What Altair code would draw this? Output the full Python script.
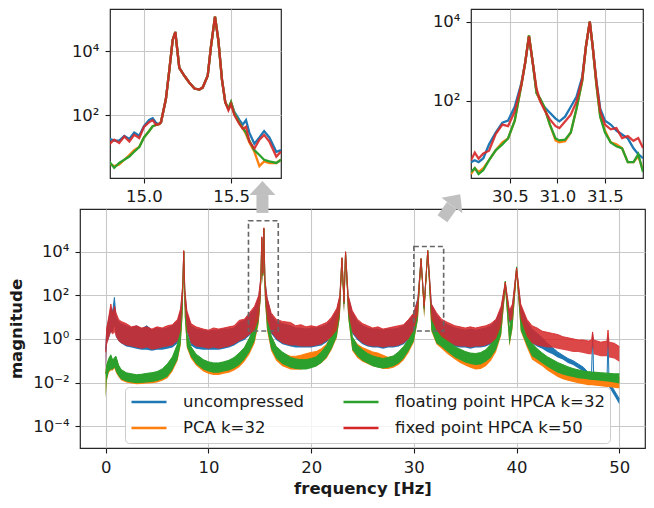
import altair as alt
import pandas as pd

# ---------------- series names / colours ----------------
SERIES = ["uncompressed", "PCA k=32", "floating point HPCA k=32", "fixed point HPCA k=50"]
COLORS = ["#1f77b4", "#ff7f0e", "#2ca02c", "#d62728"]

# ---------------- main spectrum (log10 of magnitude, lower / upper edge of noise band) ----------------
F = [0, 0.1, 0.3, 0.5, 0.7, 0.85, 1.0, 1.25, 1.5,
     2.0, 2.5, 3.0, 3.5, 4.0, 4.5, 5.0, 5.5, 6.0, 6.5, 7.0,
     7.3, 7.5, 7.6, 7.7, 7.9, 8.3, 8.8,
     9.5, 10, 10.5, 11, 11.5, 12, 12.5, 13, 13.5, 14, 14.5,
     14.9, 15.1, 15.2, 15.3, 15.4, 15.5, 15.7, 16.1, 16.6,
     17.2, 18, 18.5, 19, 19.5, 20, 20.5, 21, 21.5, 22, 22.5,
     22.8, 23.0, 23.2, 23.35, 23.6, 24.0,
     24.5, 25, 25.5, 26, 26.5, 27, 27.5, 28, 28.5, 29, 29.5, 30.0,
     30.4, 30.7, 31.0, 31.35, 31.7, 32.2, 32.7,
     33.3, 34, 34.5, 35, 35.5, 36, 36.5, 37, 37.5, 38, 38.5,
     38.9, 39.3, 39.6, 40.0, 40.4, 41,
     41.5, 42, 42.5, 43, 43.5, 44, 44.5, 45, 45.5, 46, 46.5, 47,
     47.3, 47.4, 47.5, 48.2, 48.8, 48.9, 49.0, 49.5, 50]

RED_LO = [-1.6, -0.3, 0.0, 0.3, 0.2, 0.3, 0.1, -0.1, -0.2,
          -0.3, -0.35, -0.4, -0.45, -0.4, -0.5, -0.45, -0.4, -0.35, -0.3, -0.1,
          0.4, 1.8, 3.7, 1.6, 0.4, -0.2, -0.35,
          -0.4, -0.45, -0.4, -0.45, -0.4, -0.35, -0.25, -0.1, 0.0, 0.2, 0.4,
          0.9, 2.0, 4.3, 2.6, 4.8, 2.0, 0.9, 0.3, 0.0,
          -0.2, -0.3, -0.3, -0.35, -0.35, -0.35, -0.3, -0.25, -0.1, 0.1, 0.4,
          1.2, 3.5, 1.3, 3.8, 1.2, 0.3,
          0.0, -0.2, -0.3, -0.35, -0.35, -0.4, -0.35, -0.35, -0.3, -0.2, 0.0, 0.4,
          1.1, 3.4, 1.2, 3.8, 0.9, 0.4, 0.1,
          -0.1, -0.3, -0.35, -0.35, -0.4, -0.35, -0.35, -0.3, -0.2, 0.0, 0.6,
          2.3, 0.8, 0.9, 2.9, 0.9, 0.1,
          -0.2, -0.3, -0.35, -0.4, -0.4, -0.45, -0.5, -0.55, -0.6, -0.6, -0.65, -0.7,
          -0.7, -0.3, -0.7, -0.8, -0.8, -0.3, -0.85, -0.9, -1.05]
RED_HI = [-0.6, 0.5, 1.0, 1.6, 1.1, 1.5, 1.2, 0.9, 0.8,
          0.7, 0.55, 0.6, 0.5, 0.55, 0.45, 0.55, 0.5, 0.6, 0.65, 0.9,
          1.4, 2.5, 4.05, 2.3, 1.3, 0.7, 0.55,
          0.45, 0.4, 0.5, 0.45, 0.5, 0.55, 0.6, 0.85, 0.9, 1.2, 1.5,
          2.0, 2.8, 4.68, 3.0, 5.09, 2.7, 1.9, 1.2, 0.9,
          0.8, 0.75, 0.6, 0.65, 0.55, 0.6, 0.55, 0.65, 0.75, 1.0, 1.4,
          2.0, 3.73, 1.7, 4.0, 2.0, 1.3,
          0.9, 0.7, 0.6, 0.5, 0.55, 0.45, 0.5, 0.55, 0.6, 0.65, 0.9, 1.2,
          1.8, 3.68, 1.5, 4.05, 1.6, 1.2, 0.9,
          0.75, 0.6, 0.55, 0.5, 0.55, 0.5, 0.55, 0.6, 0.7, 0.9, 1.5,
          2.6, 1.3, 1.6, 3.25, 1.6, 0.9,
          0.6, 0.5, 0.35, 0.3, 0.25, 0.2, 0.1, 0.05, 0.0, -0.05, -0.05, -0.1,
          -0.05, 0.32, -0.05, -0.15, -0.1, 0.4, -0.15, -0.2, -0.35]

BLUE_LO = [-1.5, -0.2, 0.0, 0.3, 0.3, 0.6, 0.1, -0.1, -0.2,
           -0.35, -0.4, -0.45, -0.5, -0.5, -0.55, -0.5, -0.5, -0.45, -0.4, -0.2,
           0.3, 1.7, 3.7, 1.5, 0.3, -0.3, -0.45,
           -0.5, -0.5, -0.5, -0.5, -0.45, -0.4, -0.3, -0.15, -0.05, 0.15, 0.35,
           0.9, 2.0, 4.3, 2.6, 4.8, 2.0, 0.9, 0.25, -0.05,
           -0.25, -0.35, -0.4, -0.4, -0.4, -0.4, -0.35, -0.3, -0.15, 0.05, 0.35,
           1.2, 3.5, 1.3, 3.8, 1.2, 0.25,
           -0.05, -0.25, -0.35, -0.4, -0.4, -0.45, -0.4, -0.4, -0.35, -0.25, -0.05, 0.35,
           1.2, 3.4, 1.3, 3.8, 1.0, 0.35, 0.05,
           -0.15, -0.35, -0.4, -0.4, -0.45, -0.4, -0.4, -0.35, -0.25, -0.05, 0.55,
           2.2, 0.7, 0.8, 2.9, 0.8, 0.0,
           -0.2, -0.35, -0.45, -0.6, -0.7, -0.85, -0.95, -1.1, -1.2, -1.35, -1.5, -1.75,
           -1.78, 0.0, -1.8, -1.95, -2.1, -0.1, -2.2, -2.6, -3.0]
BLUE_HI = [-0.5, 0.4, 0.9, 1.4, 1.3, 1.9, 1.0, 0.8, 0.7,
           0.6, 0.5, 0.6, 0.45, 0.6, 0.4, 0.5, 0.45, 0.5, 0.6, 0.8,
           1.3, 2.4, 4.0, 2.2, 1.2, 0.6, 0.45,
           0.4, 0.35, 0.4, 0.4, 0.45, 0.45, 0.5, 0.75, 0.85, 1.1, 1.4,
           1.9, 2.75, 4.65, 3.0, 5.05, 2.7, 1.9, 1.1, 0.8,
           0.7, 0.6, 0.5, 0.5, 0.45, 0.5, 0.5, 0.55, 0.65, 0.9, 1.3,
           1.95, 3.7, 1.65, 3.98, 1.95, 1.2,
           0.8, 0.6, 0.5, 0.45, 0.45, 0.4, 0.45, 0.45, 0.5, 0.6, 0.85, 1.15,
           1.9, 3.65, 1.6, 4.0, 1.6, 1.1, 0.8,
           0.65, 0.5, 0.45, 0.4, 0.45, 0.4, 0.45, 0.5, 0.6, 0.85, 1.4,
           2.55, 1.2, 1.5, 3.2, 1.5, 0.8,
           0.45, 0.25, 0.05, -0.2, -0.4, -0.6, -0.75, -0.9, -1.0, -1.15, -1.3, -1.55,
           -1.58, 0.23, -1.6, -1.78, -1.9, 0.09, -1.95, -2.35, -2.75]

GREEN_LO = [-2.7, -1.9, -1.5, -1.4, -1.4, -1.3, -1.5, -1.7, -1.85,
            -1.95, -2.0, -2.03, -2.02, -2.0, -1.98, -1.93, -1.85, -1.73, -1.41, -0.95,
            -0.23, 1.2, 3.6, 1.0, -0.36, -0.82, -1.15,
            -1.4, -1.5, -1.55, -1.55, -1.5, -1.45, -1.35, -1.2, -0.95, -0.6, -0.1,
            0.8, 1.9, 4.2, 2.5, 4.7, 1.8, 0.5, -0.45, -0.9,
            -1.15, -1.32, -1.38, -1.4, -1.4, -1.35, -1.27, -1.1, -0.85, -0.45, 0.1,
            1.0, 3.4, 1.2, 3.7, 1.0, -0.5,
            -0.8, -1.0, -1.13, -1.25, -1.32, -1.36, -1.32, -1.25, -1.13, -0.9, -0.55, -0.1,
            0.9, 3.4, 1.0, 3.8, 0.4, -0.2, -0.36,
            -0.6, -0.85, -0.97, -1.08, -1.15, -1.2, -1.18, -1.05, -0.85, -0.5, 0.2,
            2.2, -0.3, 0.5, 2.9, 0.4, -0.3,
            -0.8, -0.95, -1.12, -1.28, -1.42, -1.55, -1.63, -1.7, -1.75, -1.8, -1.83, -1.86,
            -1.88, -1.88, -1.89, -1.92, -1.95, -1.95, -1.96, -2.0, -2.05]
GREEN_HI = [-1.6, -1.2, -0.9, -0.73, -1.0, -0.85, -0.8, -1.2, -1.4,
            -1.55, -1.6, -1.64, -1.62, -1.58, -1.55, -1.5, -1.38, -1.15, -0.82, -0.23,
            0.41, 2.2, 4.0, 2.0, 0.23, -0.36, -0.7,
            -0.95, -1.05, -1.1, -1.1, -1.05, -0.98, -0.85, -0.65, -0.4, 0.05, 0.6,
            1.5, 2.6, 4.6, 2.9, 5.05, 2.5, 1.3, 0.15, -0.35,
            -0.6, -0.85, -0.92, -0.95, -0.95, -0.9, -0.82, -0.6, -0.3, 0.2, 0.9,
            1.8, 3.7, 1.6, 3.95, 1.8, 0.1,
            -0.3, -0.5, -0.67, -0.78, -0.85, -0.9, -0.85, -0.78, -0.6, -0.35, 0.0, 0.5,
            1.7, 3.68, 1.4, 4.05, 1.2, 0.45, 0.23,
            -0.05, -0.35, -0.47, -0.58, -0.65, -0.67, -0.63, -0.5, -0.25, 0.1, 0.9,
            2.65, 0.4, 1.2, 3.3, 1.1, 0.35,
            -0.2, -0.45, -0.65, -0.82, -0.95, -1.08, -1.18, -1.28, -1.36, -1.42, -1.47, -1.5,
            -1.52, -1.52, -1.52, -1.55, -1.57, -1.57, -1.58, -1.6, -1.6]

ORANGE_LO = [-2.7, -1.95, -1.55, -1.45, -1.45, -1.35, -1.55, -1.75, -1.9,
             -2.0, -2.05, -2.08, -2.07, -2.05, -2.03, -2.0, -1.92, -1.8, -1.5, -1.0,
             -0.3, 1.2, 3.6, 1.0, -0.42, -0.9, -1.22,
             -1.5, -1.6, -1.65, -1.65, -1.6, -1.55, -1.45, -1.3, -1.05, -0.7, -0.2,
             0.7, 1.9, 4.2, 2.5, 4.7, 1.8, 0.4, -0.55, -1.0,
             -1.25, -1.4, -1.42, -1.4, -1.35, -1.3, -1.25, -1.1, -0.9, -0.5, 0.05,
             1.0, 3.4, 1.2, 3.7, 1.0, -0.55,
             -0.88, -1.05, -1.15, -1.25, -1.3, -1.38, -1.38, -1.32, -1.2, -0.98, -0.62, -0.15,
             0.9, 3.4, 0.95, 3.8, 0.35, -0.25, -0.45,
             -0.7, -0.95, -1.1, -1.22, -1.32, -1.4, -1.38, -1.25, -1.0, -0.6, 0.15,
             2.2, -0.35, 0.45, 2.9, 0.35, -0.4,
             -0.95, -1.1, -1.25, -1.45, -1.6, -1.75, -1.85, -1.92, -1.98, -2.03, -2.08, -2.12,
             -2.13, -2.13, -2.14, -2.17, -2.2, -2.2, -2.21, -2.24, -2.27]
ORANGE_HI = [-1.6, -1.25, -0.95, -0.8, -1.05, -0.9, -0.85, -1.25, -1.45,
             -1.6, -1.65, -1.68, -1.66, -1.62, -1.6, -1.55, -1.42, -1.2, -0.88, -0.3,
             0.35, 2.2, 4.0, 2.0, 0.2, -0.4, -0.75,
             -1.0, -1.1, -1.15, -1.15, -1.1, -1.02, -0.9, -0.7, -0.45, 0.0, 0.55,
             1.45, 2.6, 4.6, 2.9, 5.05, 2.5, 1.25, 0.1, -0.4,
             -0.65, -0.8, -0.8, -0.75, -0.68, -0.62, -0.58, -0.45, -0.25, 0.2, 0.85,
             1.8, 3.7, 1.6, 3.95, 1.8, 0.05,
             -0.25, -0.4, -0.5, -0.6, -0.65, -0.75, -0.85, -0.8, -0.65, -0.4, -0.05, 0.45,
             1.7, 3.68, 1.4, 4.05, 1.15, 0.4, 0.2,
             -0.1, -0.4, -0.5, -0.6, -0.68, -0.7, -0.66, -0.55, -0.3, 0.05, 0.85,
             2.6, 0.35, 1.15, 3.25, 1.05, 0.3,
             -0.25, -0.5, -0.7, -0.9, -1.05, -1.15, -1.25, -1.35, -1.45, -1.52, -1.57, -1.62,
             -1.63, -1.63, -1.64, -1.67, -1.7, -1.7, -1.7, -1.72, -1.75]

# ---------------- inset 1 (around 15 Hz), log10 magnitude ----------------
IF1 = [14.800, 14.829, 14.858, 14.887, 14.916, 14.944, 14.973, 15.000, 15.030, 15.050,
       15.070, 15.088, 15.098, 15.126, 15.146, 15.165, 15.180, 15.203, 15.232, 15.260,
       15.290, 15.318, 15.337, 15.366, 15.385, 15.408, 15.427, 15.448, 15.467, 15.485,
       15.500, 15.519, 15.548, 15.567, 15.586, 15.605, 15.634, 15.663, 15.690, 15.720,
       15.760, 15.787]
R1 = [1.08, 1.23, 1.13, 1.33, 1.17, 1.38, 1.28, 1.63, 1.78, 1.84,
      1.69, 1.72, 1.78, 2.5, 3.42, 4.35, 4.6, 3.48, 3.23, 3.02,
      2.83, 2.8, 2.86, 3.23, 4.15, 5.08, 4.35, 3.11, 2.4, 2.15,
      2.34, 2.0, 1.72, 1.57, 1.63, 1.17, 0.95, 1.23, 1.38, 1.17,
      0.7, 0.86]
B1 = [1.26, 1.2, 1.2, 1.35, 1.25, 1.45, 1.35, 1.65, 1.85, 1.9,
      1.75, 1.72, 1.78, 2.5, 3.42, 4.35, 4.6, 3.48, 3.23, 3.02,
      2.83, 2.8, 2.86, 3.23, 4.15, 5.08, 4.35, 3.11, 2.4, 2.2,
      2.4, 2.1, 1.85, 1.7, 1.84, 1.45, 1.1, 1.3, 1.5, 1.3,
      0.85, 0.9]
G1 = [0.55, 0.35, 0.5, 0.6, 0.7, 0.85, 1.0, 1.3, 1.5, 1.65,
      1.69, 1.72, 1.78, 2.5, 3.42, 4.35, 4.6, 3.48, 3.23, 3.02,
      2.83, 2.8, 2.86, 3.23, 4.15, 5.08, 4.35, 3.11, 2.4, 2.2,
      2.4, 2.05, 1.75, 1.6, 1.45, 1.2, 0.9, 0.75, 0.6, 0.55,
      0.5, 0.6]
O1 = [0.5, 0.4, 0.45, 0.6, 0.75, 0.9, 1.0, 1.3, 1.5, 1.65,
      1.69, 1.72, 1.78, 2.5, 3.42, 4.35, 4.6, 3.48, 3.23, 3.02,
      2.83, 2.8, 2.86, 3.23, 4.15, 5.08, 4.35, 3.11, 2.4, 2.2,
      2.4, 2.05, 1.75, 1.6, 1.4, 1.15, 0.85, 0.4, 0.55, 0.5,
      0.5, 0.6]

# ---------------- inset 2 (around 31 Hz), log10 magnitude ----------------
IF2 = [30.09, 30.13, 30.17, 30.22, 30.28, 30.35, 30.42, 30.48, 30.55, 30.62,
       30.66, 30.70, 30.74, 30.78, 30.82, 30.86, 30.92, 30.98, 31.02, 31.08,
       31.14, 31.20, 31.26, 31.30, 31.34, 31.37, 31.41, 31.45, 31.50, 31.56,
       31.62, 31.68, 31.74, 31.80, 31.85, 31.90]
R2 = [0.5, 0.69, 0.54, 0.67, 0.74, 1.16, 1.4, 1.36, 1.73, 2.4,
      2.96, 3.63, 2.96, 2.3, 1.98, 1.78, 1.53, 1.36, 1.31, 1.48,
      1.65, 1.98, 2.54, 3.38, 4.0, 3.38, 2.47, 1.73, 1.4, 1.28,
      1.31, 1.06, 1.11, 0.99, 1.06, 0.81]
B2 = [0.45, 0.5, 0.45, 0.55, 0.9, 1.2, 1.45, 1.5, 1.85, 2.45,
      2.96, 3.63, 2.96, 2.2, 2.0, 1.85, 1.7, 1.55, 1.48, 1.6,
      1.85, 2.1, 2.6, 3.38, 4.0, 3.38, 2.5, 1.8, 1.5, 1.4,
      1.25, 1.15, 1.05, 0.8, 0.65, 0.55]
G2 = [0.2, 0.3, 0.15, 0.25, 0.5, 0.75, 0.9, 1.05, 1.5, 2.4,
      2.96, 3.65, 2.96, 2.2, 2.05, 1.85, 1.4, 1.05, 1.0, 1.02,
      1.2, 1.8, 2.5, 3.38, 4.0, 3.38, 2.4, 1.6, 1.2, 0.95,
      0.85, 0.8, 0.45, 0.45, 0.65, 0.2]
O2 = [0.15, 0.3, 0.2, 0.3, 0.5, 0.75, 0.95, 1.05, 1.5, 2.4,
      2.96, 3.65, 2.96, 2.2, 2.0, 1.85, 1.4, 1.0, 0.95, 0.98,
      1.2, 1.8, 2.5, 3.38, 4.0, 3.38, 2.4, 1.6, 1.25, 0.95,
      0.9, 0.8, 0.45, 0.45, 0.6, 0.25]

# ---------------- annotations (data coordinates of the main panel; y as log10) ----------------
BOX_F0 = [13.9, 30.0]
BOX_F1 = [16.8, 32.9]
BOX_Y0 = [0.36, 0.36]
BOX_Y1 = [5.41, 4.23]

ARROW_F0 = [15.26, 32.78]
ARROW_Y0 = [5.77, 5.50]
ARROW_F1 = [15.26, 33.70]
ARROW_Y1 = [6.59, 6.11]
HEAD_F = [15.26, 34.11]
HEAD_Y = [6.91, 6.37]
HEAD_ANGLE = [0, 36.5]

MAIN_XTICKS = [0, 10, 20, 30, 40, 50]
MAIN_YTICKS = [1e-4, 1e-2, 1, 1e2, 1e4]

# ---------------- styling ----------------
FS = 16.5
FONT = "DejaVu Sans"
GRID = "#c8c8c8"
INK = "#1a1a1a"
ARROW_COLOR = "#c0c0c0"

SUP_EXPR = ("datum.value < 0.001 ? '10\u207b\u2074' : datum.value < 0.1 ? '10\u207b\u00b2' : "
            "datum.value < 10 ? '10\u2070' : datum.value < 1000 ? '10\u00b2' : "
            "datum.value < 100000 ? '10\u2074' : '10\u2076'")


def axis(**kw):
    base = dict(labelFontSize=FS, labelColor=INK, tickColor=INK, tickSize=5, tickWidth=1.1,
                labelPadding=5, domain=False, grid=True, gridColor=GRID, gridWidth=1.1,
                labelFont=FONT, titleFont=FONT, titleFontSize=FS, titleColor=INK,
                titleFontWeight="bold", labelFlush=False)
    base.update(kw)
    return alt.Axis(**base)


def pw(vals):
    return [10 ** v for v in vals]


# ---------------- main panel ----------------
xs_main = alt.Scale(domain=[-2.5, 52.5], nice=False, zero=False)
ys_main = alt.Scale(type="log", domain=[1e-5, 10 ** 5.95], nice=False)
x_axis_main = axis(values=MAIN_XTICKS, title="frequency [Hz]", titlePadding=5, labelPadding=6)
y_axis_main = axis(values=MAIN_YTICKS, labelExpr=SUP_EXPR, title="magnitude", titlePadding=8,
                   labelPadding=6)

stroke_scale = alt.Scale(domain=SERIES, range=COLORS)
legend = alt.Legend(title=None, orient="none", legendX=45, legendY=178, columns=2,
                    symbolType="stroke", symbolSize=1225, symbolStrokeWidth=2.5, clipHeight=20,
                    labelFontSize=FS, labelFont=FONT, labelColor=INK, labelOffset=15, labelLimit=400,
                    columnPadding=37, rowPadding=6, padding=5,
                    fillColor="rgba(255,255,255,0.8)", strokeColor="#cccccc", cornerRadius=4)

bands = [
    (SERIES[0], COLORS[0], BLUE_LO, BLUE_HI, 1.0),
    (SERIES[1], COLORS[1], ORANGE_LO, ORANGE_HI, 1.0),
    (SERIES[2], COLORS[2], GREEN_LO, GREEN_HI, 1.0),
    (SERIES[3], COLORS[3], RED_LO, RED_HI, 0.85),
]

main_layers = []
for name, color, lo, hi, op in bands:
    n = min(len(F), len(lo), len(hi))
    df = pd.DataFrame({"f": F[:n], "lo": pw(lo[:n]), "hi": pw(hi[:n]), "series": name})
    base = alt.Chart(df)
    main_layers.append(
        base.mark_area(color=color, opacity=op, clip=True).encode(
            x=alt.X("f:Q", scale=xs_main, axis=x_axis_main),
            y=alt.Y("lo:Q", scale=ys_main, axis=y_axis_main),
            y2="hi:Q",
        )
    )
    main_layers.append(
        base.mark_line(strokeWidth=1, opacity=op, clip=True).encode(
            x=alt.X("f:Q", scale=xs_main, axis=x_axis_main),
            y=alt.Y("hi:Q", scale=ys_main, axis=y_axis_main),
            stroke=alt.Stroke("series:N", scale=stroke_scale, legend=legend),
        )
    )

box_df = pd.DataFrame({"x0": BOX_F0, "x1": BOX_F1, "y0": pw(BOX_Y0), "y1": pw(BOX_Y1)})
boxes = alt.Chart(box_df).mark_rect(fillOpacity=0, stroke="#666666", strokeWidth=1.6,
                                    strokeDash=[5, 3]).encode(
    x=alt.X("x0:Q", scale=xs_main, axis=x_axis_main), x2="x1:Q",
    y=alt.Y("y0:Q", scale=ys_main, axis=y_axis_main), y2="y1:Q")

shaft_df = pd.DataFrame({"x0": ARROW_F0, "x1": ARROW_F1, "y0": pw(ARROW_Y0), "y1": pw(ARROW_Y1)})
shafts = alt.Chart(shaft_df).mark_rule(color=ARROW_COLOR, strokeWidth=12, strokeCap="butt").encode(
    x=alt.X("x0:Q", scale=xs_main, axis=x_axis_main), x2="x1:Q",
    y=alt.Y("y0:Q", scale=ys_main, axis=y_axis_main), y2="y1:Q")

head_df = pd.DataFrame({"x": HEAD_F, "y": pw(HEAD_Y), "a": HEAD_ANGLE})
heads = alt.Chart(head_df).mark_point(shape="M-1,0.54L0,-0.54L1,0.54Z", filled=True, size=676,
                                      color=ARROW_COLOR, opacity=1, strokeWidth=0).encode(
    x=alt.X("x:Q", scale=xs_main, axis=x_axis_main),
    y=alt.Y("y:Q", scale=ys_main, axis=y_axis_main),
    angle=alt.Angle("a:Q", scale=None))

main = alt.layer(*main_layers, boxes, shafts, heads).properties(width=565, height=239)


# ---------------- insets ----------------
def inset(freqs, curves, xdom, ydom, xticks, width):
    xs = alt.Scale(domain=xdom, nice=False, zero=False)
    ys = alt.Scale(type="log", domain=ydom, nice=False)
    xa = axis(values=xticks, format=".1f", title=None)
    ya = axis(values=[1e2, 1e4], labelExpr=SUP_EXPR, title=None, labelPadding=6)
    layers = []
    for vals, color, op in curves:
        n = min(len(freqs), len(vals))
        df = pd.DataFrame({"f": freqs[:n], "m": pw(vals[:n])})
        layers.append(
            alt.Chart(df).mark_line(color=color, strokeWidth=2.3, opacity=op, clip=True).encode(
                x=alt.X("f:Q", scale=xs, axis=xa),
                y=alt.Y("m:Q", scale=ys, axis=ya),
            )
        )
    return alt.layer(*layers).properties(width=width, height=169)


inset1 = inset(IF1, [(B1, COLORS[0], 1), (O1, COLORS[1], 1), (G1, COLORS[2], 1), (R1, COLORS[3], 0.9)],
               [14.805, 15.787], [10 ** 0.03, 10 ** 5.32], [15.0, 15.5], 171)
inset2 = inset(IF2, [(B2, COLORS[0], 1), (O2, COLORS[1], 1), (G2, COLORS[2], 1), (R2, COLORS[3], 0.9)],
               [30.09, 31.9], [10 ** 0.05, 10 ** 4.32], [30.5, 31.0, 31.5], 172)


def spacer(w):
    return alt.Chart(pd.DataFrame({"v": [0]})).mark_point(opacity=0).properties(
        width=w, height=169, view=alt.ViewBackground(stroke="transparent"))


top = alt.hconcat(spacer(30), inset1, spacer(190), inset2, spacing=0, bounds="flush")

chart = alt.vconcat(top, main, spacing=200, bounds="flush").resolve_scale(
    stroke="independent").properties(
    padding={"left": 0, "top": 0, "right": 0, "bottom": 0}
).configure(font=FONT).configure_view(stroke="#262626", strokeWidth=1.2)

chart.save("out.html", embed_options={"renderer": "svg", "actions": False})
